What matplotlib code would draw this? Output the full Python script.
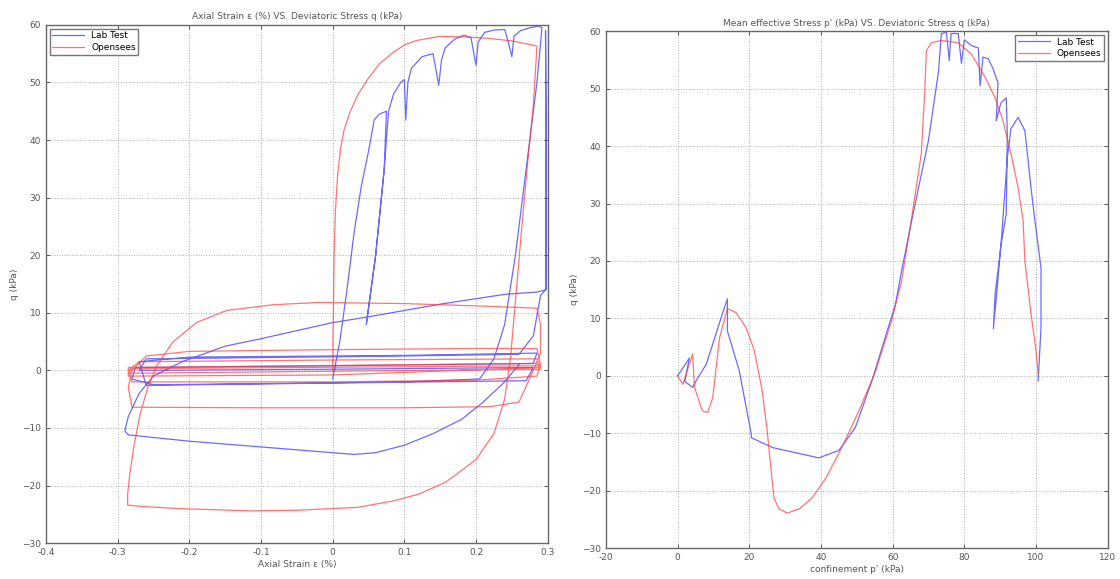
import numpy as np
import matplotlib
matplotlib.use("Agg")
import matplotlib.pyplot as plt

# ---------------- data: left plot (axial strain vs q) ----------------
lab_eps = [0.0, 0.01, 0.02, 0.03, 0.04, 0.05, 0.058, 0.065, 0.075, 0.072, 0.06, 0.047, 0.06, 0.072,
           0.078, 0.085, 0.095, 0.1, 0.102, 0.105, 0.11, 0.125, 0.14, 0.143, 0.148, 0.152, 0.157,
           0.17, 0.183, 0.193, 0.197, 0.2, 0.203, 0.212, 0.225, 0.24, 0.245, 0.25, 0.253, 0.262,
           0.275, 0.287, 0.292,
           0.285, 0.27, 0.255, 0.24, 0.225, 0.205, 0.1, -0.1, -0.25, -0.28, -0.275,
           0.0, 0.28, 0.285, 0.1, -0.2, -0.27, -0.26, 0.0, 0.27, 0.28, 0.0, -0.27, -0.26, 0.1,
           0.26, 0.28, 0.29, 0.297, 0.298, 0.297, 0.298, 0.285, 0.24, 0.15, 0.05, 0.0, -0.1, -0.15,
           -0.21, -0.25, -0.27, -0.285, -0.29, -0.285, -0.27, -0.2, -0.1, 0.0, 0.03, 0.06, 0.1,
           0.14, 0.18, 0.21, 0.24, 0.26]
lab_q = [-1.5, 5, 14, 24, 32, 38, 43.5, 44.5, 45, 35, 20, 8, 20, 35,
         45, 48, 50, 50.5, 43.5, 50, 52.5, 54.5, 55, 53, 49.5, 54, 56,
         57.5, 58.2, 57.8, 55, 53, 57, 58.7, 59.1, 59.2, 57, 54.5, 58, 59,
         59.5, 59.8, 59.5,
         50, 35, 20, 8, 2, -1.5, -2, -2.3, -2.5, -1.5, 0.5,
         0.8, 1.2, 3.0, 2.6, 2.3, 1.5, -2.6, -2.2, -1.8, 0.5, 0.2, 0.0, 2.0, 2.5,
         2.8, 6, 13, 14, 40, 59, 14, 13.6, 13.2, 11.5, 9.3, 8.3, 5.5, 4.2,
         1.5, -1, -4, -8, -10.5, -11.2, -11.4, -12.3, -13.3, -14.3, -14.6, -14.3, -13,
         -11, -8.5, -5.5, -2, 1]

os_eps = [0.0, 0.001, 0.002, 0.004, 0.007, 0.011, 0.016, 0.024, 0.035, 0.048, 0.065, 0.084, 0.1,
          0.117, 0.15, 0.187, 0.215, 0.251,
          0.279, 0.285, 0.28, 0.272, 0.264, 0.255, 0.248, 0.24, 0.225, 0.2, 0.158, 0.12, 0.084,
          0.034, -0.05, -0.115, -0.215, -0.27, -0.286, -0.286, -0.283, -0.277, -0.269, -0.258,
          -0.245, -0.223,
          -0.19, -0.148, -0.083, -0.018, 0.1, 0.2, 0.285, 0.29, 0.29, 0.28, 0.26, 0.22, 0.1,
          -0.1, -0.28, -0.285, -0.28, -0.26, -0.2, 0.0, 0.2, 0.285, 0.29, 0.285, 0.2, 0.0, -0.28,
          -0.285, -0.27, 0.0, 0.285, 0.29, 0.0, -0.285, -0.285, 0.285, 0.29, -0.285, -0.28, 0.29]
os_q = [0.0, 10, 20, 28, 34, 38.5, 41.8, 44.8, 47.8, 50.4, 53.2, 55.2, 56.5,
        57.3, 58.0, 57.9, 57.7, 57.2,
        56.5, 56.3, 46, 36, 25, 12, 2, -5, -11, -15.5, -19.4, -21.5, -22.7,
        -23.8, -24.3, -24.4, -24.0, -23.6, -23.4, -21.5, -18, -13, -7.8, -3, 0.9, 4.9,
        8.3, 10.4, 11.4, 11.8, 11.6, 11.2, 10.8, 8, 3, 0, -5.5, -6.3, -6.5,
        -6.5, -6.4, -3, 0, 2.5, 3.3, 3.6, 3.8, 3.8, 1, -1, -1.7, -2, -2,
        0, 1.5, 1.8, 2.0, 0.5, -0.8, -1, 0.5, 1.2, 0.2, -0.5, 0.3, 0.8]

# ---------------- data: right plot (p' vs q) ----------------
lab_p = [0.0, 1.0, 3.3, 2.0, 4.2, 5.5, 8.0, 12.5, 13.9, 13.9, 17.2, 20.5, 20.6, 26.5, 39.4, 45.0,
         49.6, 54.2, 60.8, 62.5, 65.3, 70.0, 72.8, 73.6, 75.0, 75.8, 76.3, 78.3, 79.2, 80.0, 82.0,
         83.9, 84.4, 85.2, 86.7, 88.0, 89.4, 88.9, 90.2, 91.7, 92.0, 91.7, 90.3, 88.6, 88.1,
         89.0, 90.5, 92.0, 93.0, 95.0, 96.9, 98.6, 99.5, 101.4, 101.4, 100.6]
lab_pq = [0.0, 0.9, 3.1, -1.0, -2.0, -0.5, 2.0, 10.8, 13.4, 7.8, 0.9, -10.0, -10.8, -12.5, -14.3,
          -13.0, -9.0, -0.9, 12.5, 18.3, 27.0, 41.0, 53.0, 59.6, 59.8, 54.9, 59.6, 59.6, 54.4, 58.5,
          57.5, 57.1, 50.5, 55.5, 55.2, 53.5, 51.0, 44.4, 47.5, 48.4, 42.0, 28.2, 23.0, 14.3, 8.2,
          14.0, 25.0, 38.0, 43.0, 45.0, 42.7, 32.8, 28.0, 18.8, 8.4, -0.9]

os_p = [0.0, 1.5, 3.0, 4.2, 4.7, 6.9, 8.4, 9.8, 11.7, 13.9, 16.3, 19.1, 21.4, 23.6, 25.0, 26.1,
        26.9, 28.3, 30.6, 33.9, 37.5, 41.4, 45.8, 50.6, 55.3, 59.7, 62.5, 65.3, 68.0, 69.0, 69.4,
        70.8, 73.6, 78.3, 82.0, 85.8, 88.6, 90.8, 93.0, 95.0, 96.4, 96.9, 98.6, 100.0, 100.6]
os_pq = [0.0, -1.5, 1.5, 3.8, -2.0, -6.1, -6.4, -3.8, 6.6, 11.7, 11.0, 8.4, 4.4, -2.6, -9.6, -16.5,
         -21.3, -23.2, -23.9, -23.2, -21.3, -17.8, -12.5, -6.1, 0.9, 9.6, 16.5, 27.5, 38.7, 50.0,
         56.6, 58.0, 58.4, 58.0, 56.0, 52.0, 48.4, 44.4, 38.7, 32.8, 27.0, 20.0, 10.8, 4.4, 0.3]

left_title = "Axial Strain ε (%) VS. Deviatoric Stress q (kPa)"
right_title = "Mean effective Stress p' (kPa) VS. Deviatoric Stress q (kPa)"
left_xlabel = "Axial Strain ε (%)"
right_xlabel = "confinement p' (kPa)"
ylabel = "q (kPa)"
series_names = ["Lab Test", "Opensees"]
left_xticks = [-0.4, -0.3, -0.2, -0.1, 0, 0.1, 0.2, 0.3]
right_xticks = [-20, 0, 20, 40, 60, 80, 100, 120]
yticks = [-30, -20, -10, 0, 10, 20, 30, 40, 50, 60]

BLUE = "#3a3aff"
RED = "#ff3a3a"

fig = plt.figure(figsize=(11.2, 5.79), dpi=100)
ax1 = fig.add_axes([0.041, 0.062, 0.448, 0.895])
ax2 = fig.add_axes([0.541, 0.0535, 0.448, 0.8925])


def style(ax, xticks, xlim):
    ax.set_xlim(*xlim)
    ax.set_ylim(-30, 60)
    ax.set_xticks(xticks)
    ax.set_yticks(yticks)
    ax.set_xticklabels([("%g" % t) for t in xticks])
    ax.grid(True, linestyle=":", color="#b0b0b0", linewidth=0.7)
    ax.tick_params(direction="in", top=True, right=True, labelsize=6.5,
                   colors="#555555", length=3, width=0.7)
    for s in ax.spines.values():
        s.set_color("#666666")
        s.set_linewidth(1.0)


ax1.plot(lab_eps, lab_q, color=BLUE, lw=0.9, alpha=0.75, label=series_names[0])
ax1.plot(os_eps, os_q, color=RED, lw=0.9, alpha=0.7, label=series_names[1])
style(ax1, left_xticks, (-0.4, 0.3))
ax1.set_title(left_title, fontsize=6.5, color="#555555", pad=4)
ax1.set_xlabel(left_xlabel, fontsize=6.5, color="#555555", labelpad=2)
ax1.set_ylabel(ylabel, fontsize=6.5, color="#555555", labelpad=2)
ax1.legend(loc="upper left", fontsize=6.5, frameon=True, fancybox=False,
           edgecolor="#555555", handlelength=3.5, borderpad=0.3, labelspacing=0.3,
           borderaxespad=0.4)

ax2.plot(lab_p, lab_pq, color=BLUE, lw=0.9, alpha=0.75, label=series_names[0])
ax2.plot(os_p, os_pq, color=RED, lw=0.9, alpha=0.7, label=series_names[1])
style(ax2, right_xticks, (-20, 120))
ax2.set_title(right_title, fontsize=6.5, color="#555555", pad=4)
ax2.set_xlabel(right_xlabel, fontsize=6.5, color="#555555", labelpad=2)
ax2.set_ylabel(ylabel, fontsize=6.5, color="#555555", labelpad=2)
ax2.legend(loc="upper right", fontsize=6.5, frameon=True, fancybox=False,
           edgecolor="#555555", handlelength=3.5, borderpad=0.3, labelspacing=0.3,
           borderaxespad=0.4)

fig.savefig("out.png", dpi=100)
